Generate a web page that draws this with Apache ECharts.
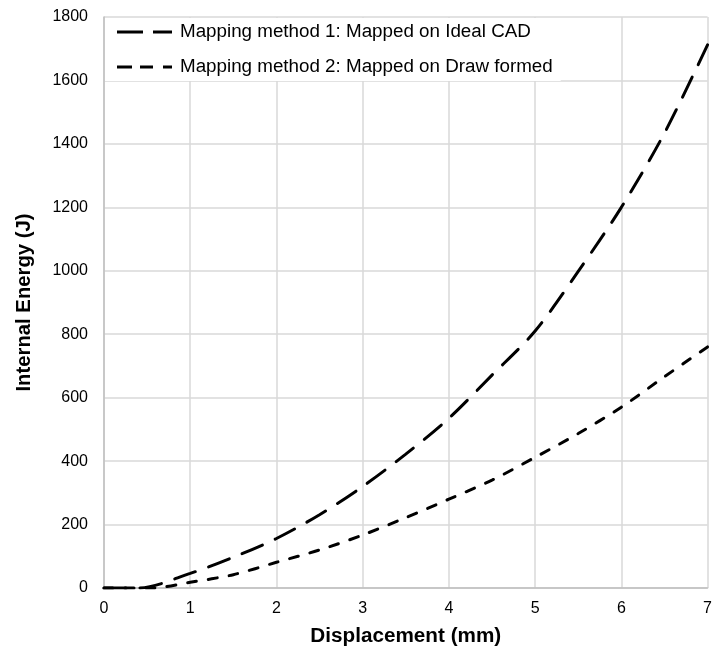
<!DOCTYPE html>
<html>
<head>
<meta charset="utf-8">
<script src="https://cdn.jsdelivr.net/npm/echarts@6/dist/echarts.min.js"></script>
<style>
  html, body { margin: 0; padding: 0; background: #ffffff; }
  #chart { width: 715px; height: 652px; }
</style>
</head>
<body>
<div id="chart"></div>
<script>
// Displacement (mm) sample positions and internal energy (J) for each mapping method
const displacement1 = [0, 0.4, 1, 1.5, 2, 2.5, 3, 3.5, 4, 4.5, 5, 5.5, 6, 6.5, 7];
const energyMethod1 = [0, 0, 46, 97, 156, 231, 320, 422, 535, 671, 810, 998, 1200, 1434, 1712];

const displacement2 = [0, 0.55, 1, 1.5, 2, 2.5, 3, 3.5, 4, 4.5, 5, 5.5, 6, 6.5, 7];
const energyMethod2 = [0, 0, 18, 42, 81, 120, 167, 222, 280, 340, 412, 487, 570, 666, 760];

const seriesNames = [
  'Mapping method 1: Mapped on Ideal CAD',
  'Mapping method 2: Mapped on Draw formed'
];
const xTicks = { min: 0, max: 7, step: 1 };
const yTicks = { min: 0, max: 1800, step: 200 };

const pairs = (xs, ys) => xs.map((x, i) => [x, ys[i]]);

// Legend keys drawn as dash strips
const longDashIcon = 'path://M0,0H26V3H0Z M36,0H55V3H36Z';
const shortDashIcon = 'path://M0,0H15V3H0Z M23,0H36V3H23Z M46,0H55V3H46Z';

const chart = echarts.init(document.getElementById('chart'), null, { renderer: 'canvas' });

const font = 'Liberation Sans, Arial, sans-serif';

chart.setOption({
  animation: false,
  backgroundColor: '#ffffff',
  textStyle: { fontFamily: font },
  grid: { left: 104, right: 2, top: 17, bottom: 63, containLabel: false },
  legend: {
    orient: 'vertical',
    left: 105,
    top: 18,
    padding: [4, 8, 4, 12],
    itemGap: 15,
    itemWidth: 55,
    itemHeight: 3,
    backgroundColor: '#ffffff',
    textStyle: { fontFamily: font, fontSize: 18.8, lineHeight: 20, color: '#000000', padding: [0, 0, 0, 3] },
    data: [
      { name: seriesNames[0], icon: longDashIcon },
      { name: seriesNames[1], icon: shortDashIcon }
    ]
  },
  xAxis: {
    type: 'value',
    min: xTicks.min,
    max: xTicks.max,
    interval: xTicks.step,
    name: 'Displacement (mm)',
    nameLocation: 'middle',
    nameGap: 38,
    nameTextStyle: { fontFamily: font, fontSize: 20.7, fontWeight: 'bold', color: '#000000' },
    axisLine: { show: true, lineStyle: { color: '#bfbfbf', width: 1.5 } },
    axisTick: { show: false },
    axisLabel: { fontFamily: font, fontSize: 16, color: '#000000', margin: 13 },
    splitLine: { show: true, lineStyle: { color: '#d9d9d9', width: 1.5 } }
  },
  yAxis: {
    type: 'value',
    min: yTicks.min,
    max: yTicks.max,
    interval: yTicks.step,
    name: 'Internal Energy (J)',
    nameLocation: 'middle',
    nameGap: 70,
    nameTextStyle: { fontFamily: font, fontSize: 20.3, fontWeight: 'bold', color: '#000000' },
    axisLine: { show: true, lineStyle: { color: '#bfbfbf', width: 1.5 } },
    axisTick: { show: false },
    axisLabel: { fontFamily: font, fontSize: 16, color: '#000000', margin: 16, formatter: (v) => String(v) },
    splitLine: { show: true, lineStyle: { color: '#d9d9d9', width: 1.5 } }
  },
  series: [
    {
      name: seriesNames[0],
      type: 'line',
      data: pairs(displacement1, energyMethod1),
      smooth: 0.3,
      symbol: 'none',
      lineStyle: { color: '#000000', width: 3, type: [22, 14], cap: 'round' },
      itemStyle: { color: '#000000' },
      z: 3
    },
    {
      name: seriesNames[1],
      type: 'line',
      data: pairs(displacement2, energyMethod2),
      smooth: 0.3,
      symbol: 'none',
      lineStyle: { color: '#000000', width: 3, type: [9, 12], cap: 'round' },
      itemStyle: { color: '#000000' },
      z: 3
    }
  ]
});
</script>
</body>
</html>
